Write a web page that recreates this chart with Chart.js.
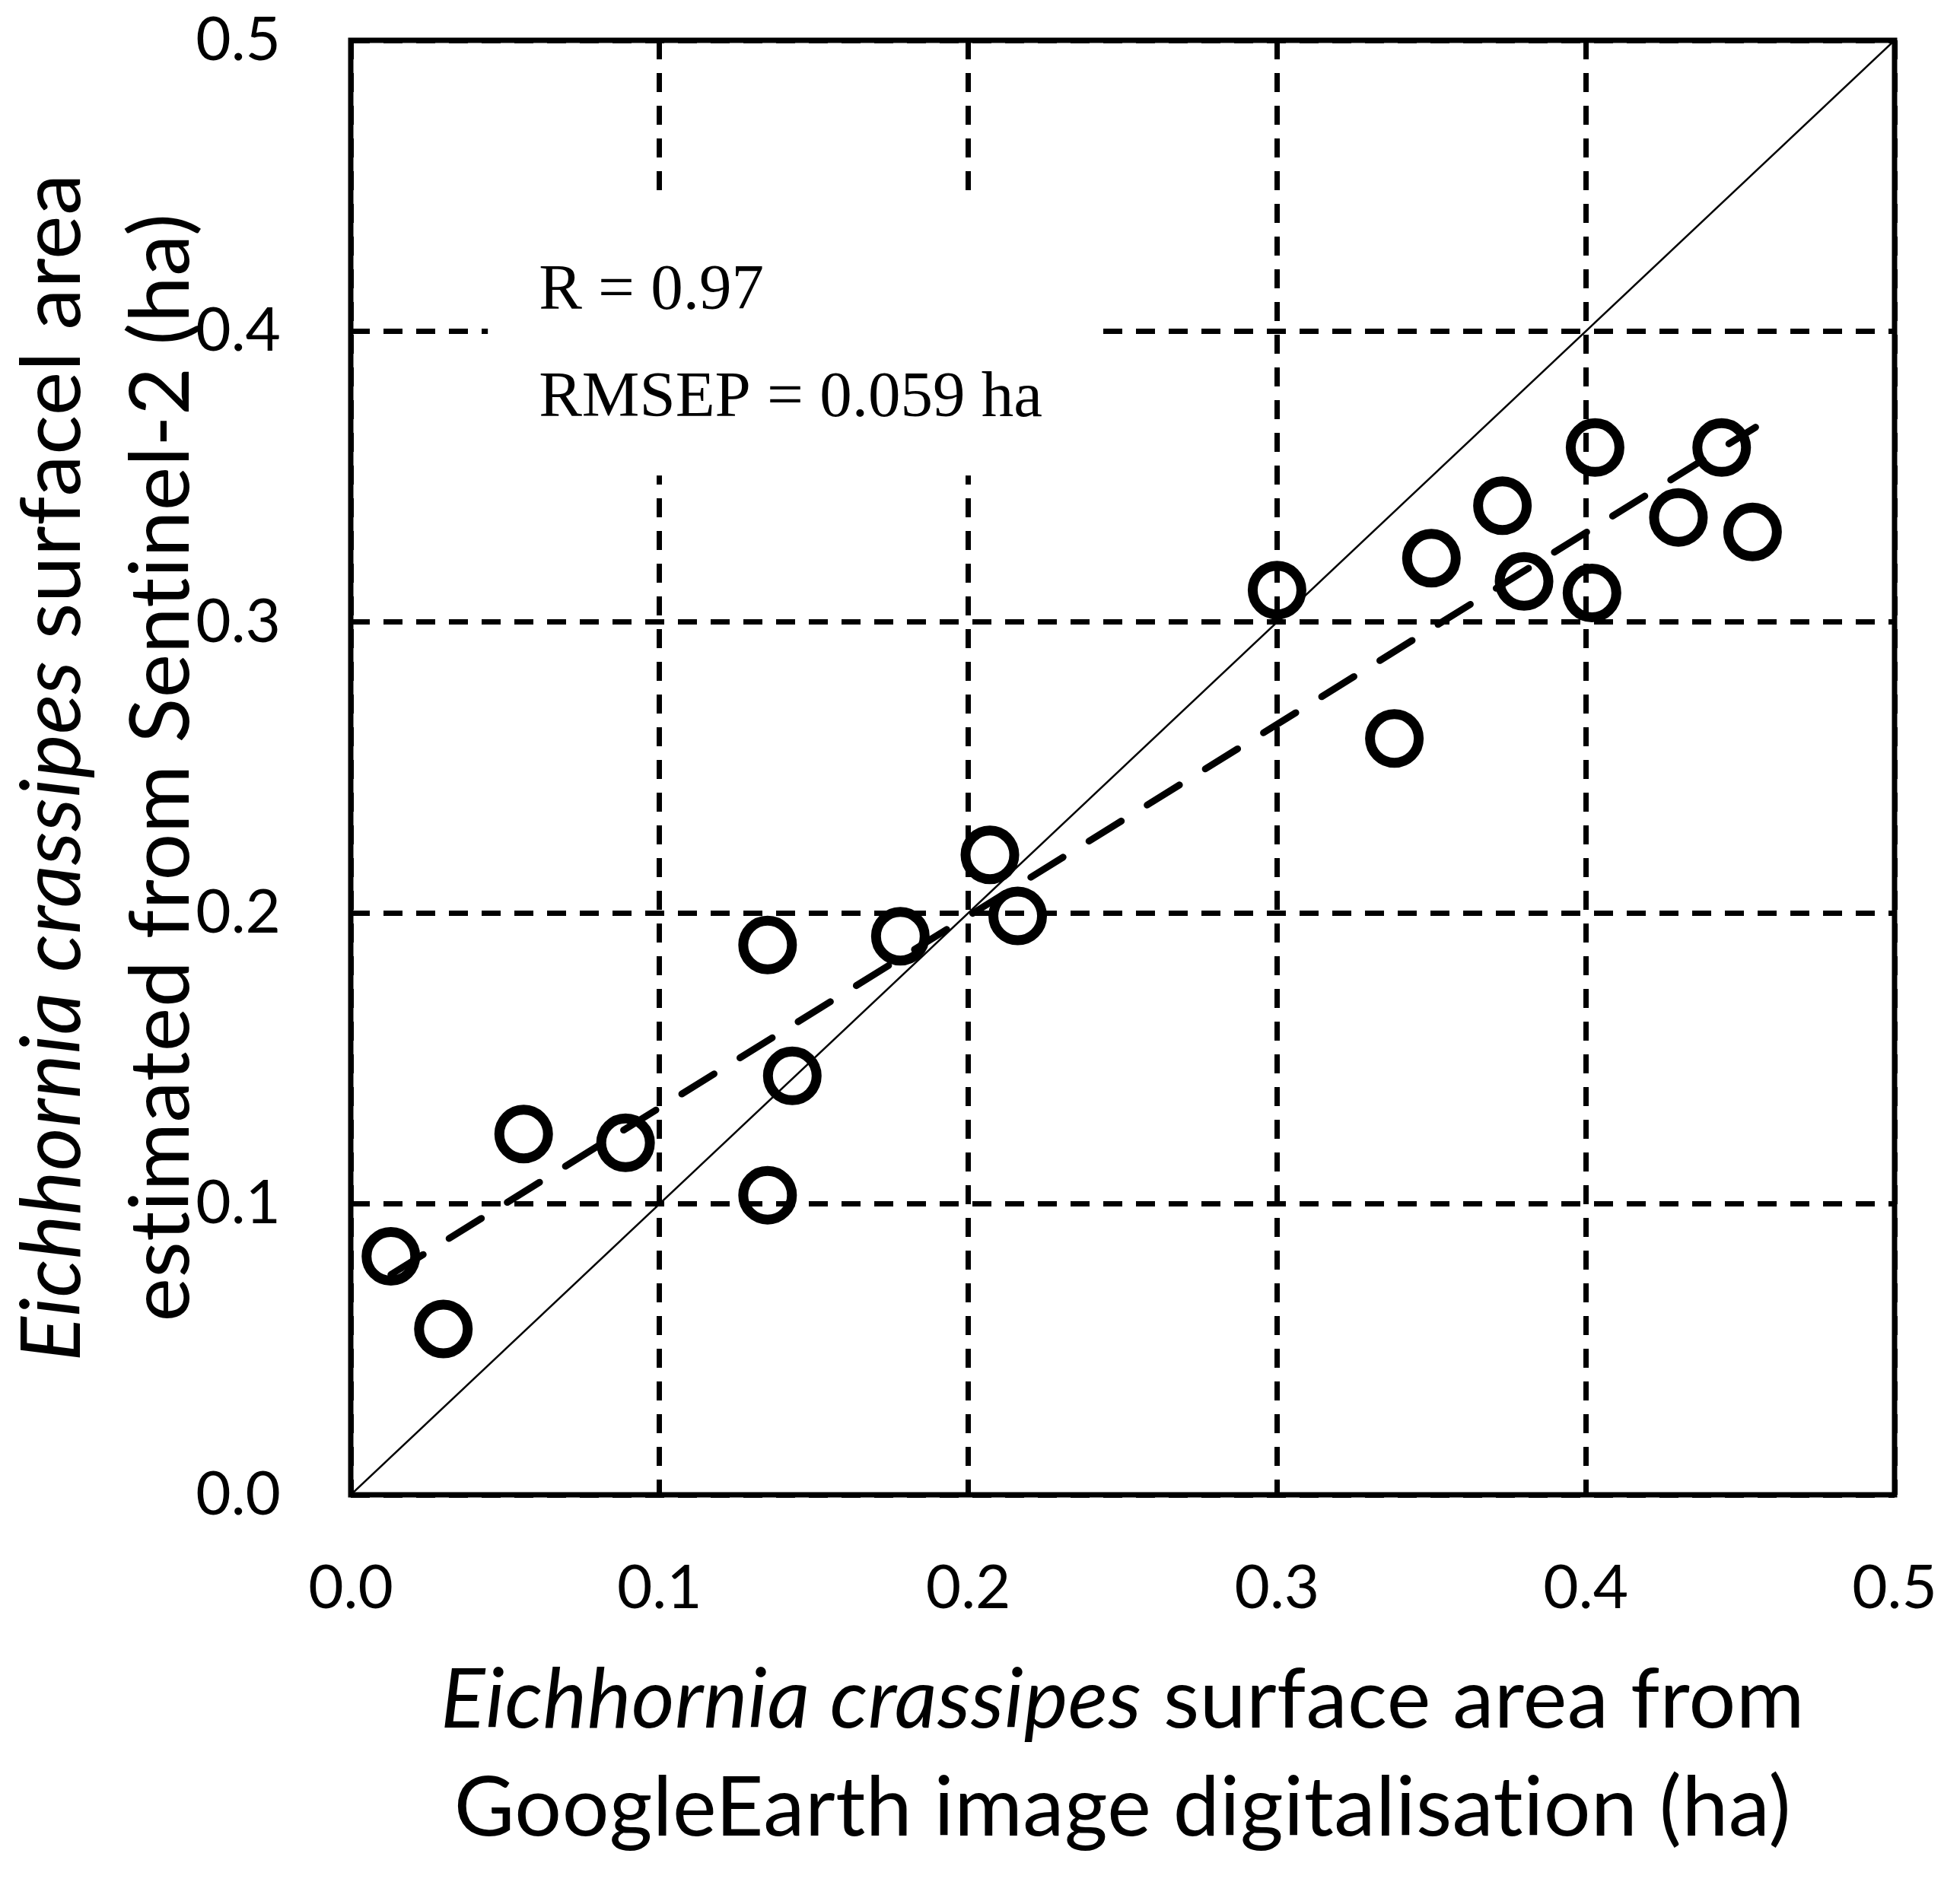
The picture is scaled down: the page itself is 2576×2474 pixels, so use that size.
<!DOCTYPE html>
<html>
<head>
<meta charset="utf-8">
<script src="https://cdn.jsdelivr.net/npm/chart.js@4.4.1/dist/chart.umd.min.js"></script>
<style>
  html, body { margin: 0; padding: 0; background: #fff; }
  #wrap { width: 2576px; height: 2474px; }
</style>
</head>
<body>
<div id="wrap"><canvas id="scatterChart" width="2576" height="2474"></canvas></div>
<script>
// GoogleEarth digitalisation (x) vs Sentinel-2 estimate (y), ha
const xGoogleEarth = [0.013, 0.030, 0.056, 0.089, 0.135, 0.135, 0.143, 0.178, 0.207, 0.216,
                      0.300, 0.338, 0.350, 0.373, 0.380, 0.403, 0.402, 0.430, 0.444, 0.454];
const ySentinel = [0.082, 0.057, 0.124, 0.121, 0.189, 0.103, 0.144, 0.192, 0.220, 0.199,
                   0.311, 0.260, 0.322, 0.340, 0.314, 0.360, 0.310, 0.336, 0.360, 0.331];

// regression line end points and 1:1 line
const fitX = [0.013, 0.455];
const fitY = [0.0757, 0.367];
const oneToOneX = [0, 0.5];
const oneToOneY = [0, 0.5];

const tickLabels = ['0.0', '0.1', '0.2', '0.3', '0.4', '0.5'];
const statLines = ['R = 0.97', 'RMSEP = 0.059 ha'];

const xTitle = [
    [['Eichhornia crassipes', true], [' surface area from', false]],
    [['GoogleEarth image digitalisation (ha)', false]]
];
const yTitle = [
    [['Eichhornia crassipes', true], [' surfacel area', false]],
    [['estimated from Sentinel-2 (ha)', false]]
];

const toPoints = (xs, ys) => xs.map((x, i) => ({ x: x, y: ys[i] }));

const titleFont = 109;
function drawRuns(ctx, runs, cx, cy) {
    const fonts = runs.map(r => (r[1] ? 'italic ' : '') + titleFont + 'px Lato');
    ctx.letterSpacing = '0.5px'; // keeps Lato from joining "ti"
    let total = 0;
    const widths = runs.map((r, i) => { ctx.font = fonts[i]; const w = ctx.measureText(r[0]).width; total += w; return w; });
    let x = cx - total / 2;
    runs.forEach((r, i) => { ctx.font = fonts[i]; ctx.fillText(r[0], x, cy); x += widths[i]; });
}

const decorPlugin = {
    id: 'decor',
    beforeDatasetsDraw(chart) {
        const { ctx, chartArea: a, scales: { x, y } } = chart;
        ctx.save();
        // white box behind the statistics (hides the grid there)
        ctx.fillStyle = '#fff';
        const bx0 = x.getPixelForValue(0.0444), bx1 = x.getPixelForValue(0.2413);
        const by0 = y.getPixelForValue(0.4472), by1 = y.getPixelForValue(0.3504);
        ctx.fillRect(bx0, by0, bx1 - bx0, by1 - by0);
        ctx.fillStyle = '#000';
        ctx.font = '85px "Liberation Serif"';
        ctx.textBaseline = 'alphabetic';
        ctx.textAlign = 'left';
        const tx = x.getPixelForValue(0.0609);
        ctx.fillText(statLines[0], tx, y.getPixelForValue(0.4077));
        ctx.fillText(statLines[1], tx, y.getPixelForValue(0.3708));
        // frame
        ctx.strokeStyle = '#000';
        ctx.lineWidth = 7;
        ctx.strokeRect(a.left, a.top, a.right - a.left, a.bottom - a.top);
        ctx.restore();
    },
    afterDraw(chart) {
        const { ctx, chartArea: a } = chart;
        ctx.save();
        ctx.fillStyle = '#000';
        ctx.textBaseline = 'alphabetic';
        ctx.textAlign = 'left';
        const cx = (a.left + a.right) / 2;
        drawRuns(ctx, xTitle[0], cx, 2271);
        drawRuns(ctx, xTitle[1], cx, 2413);
        const cy = (a.top + a.bottom) / 2;
        [105, 248].forEach((bx, i) => {
            ctx.save();
            ctx.translate(bx, cy);
            ctx.rotate(-Math.PI / 2);
            drawRuns(ctx, yTitle[i], 0, 0);
            ctx.restore();
        });
        ctx.restore();
    }
};

const gridOpts = { color: '#000', lineWidth: 7, drawTicks: false };
const borderOpts = { display: false, dash: [25, 18] };
const tickFont = { family: 'Lato', size: 80 };

const ctx = document.getElementById('scatterChart').getContext('2d');
const scatterChart = new Chart(ctx, {
    type: 'scatter',
    data: {
        datasets: [{
            label: '1:1',
            data: toPoints(oneToOneX, oneToOneY),
            showLine: true,
            borderColor: '#000',
            borderWidth: 2.5,
            pointRadius: 0
        }, {
            label: 'fit',
            data: toPoints(fitX, fitY),
            showLine: true,
            borderColor: '#000',
            borderWidth: 9,
            borderDash: [50, 40],
            borderCapStyle: 'round',
            pointRadius: 0
        }, {
            label: 'Eichhornia crassipes',
            data: toPoints(xGoogleEarth, ySentinel),
            pointStyle: 'circle',
            pointRadius: 32,
            pointBorderWidth: 13,
            pointBorderColor: '#000',
            pointBackgroundColor: 'rgba(0,0,0,0)',
            pointHoverRadius: 32
        }]
    },
    options: {
        responsive: false,
        animation: false,
        devicePixelRatio: 1,
        layout: { padding: { top: 53, right: 86, left: 0, bottom: 0 } },
        plugins: { legend: { display: false }, tooltip: { enabled: false } },
        scales: {
            x: {
                type: 'linear', min: 0, max: 0.5,
                grid: gridOpts, border: borderOpts,
                ticks: { stepSize: 0.1, padding: 75, color: '#000', font: tickFont,
                         callback: (v, i) => tickLabels[i] },
                afterFit: s => { s.height = 509; s.paddingLeft = 0; s.paddingRight = 0; }
            },
            y: {
                type: 'linear', min: 0, max: 0.5,
                grid: gridOpts, border: borderOpts,
                ticks: { stepSize: 0.1, padding: 92, color: '#000', font: tickFont,
                         callback: (v, i) => tickLabels[i] },
                afterFit: s => { s.width = 461; s.paddingTop = 0; s.paddingBottom = 0; }
            }
        }
    },
    plugins: [decorPlugin]
});
</script>
</body>
</html>
